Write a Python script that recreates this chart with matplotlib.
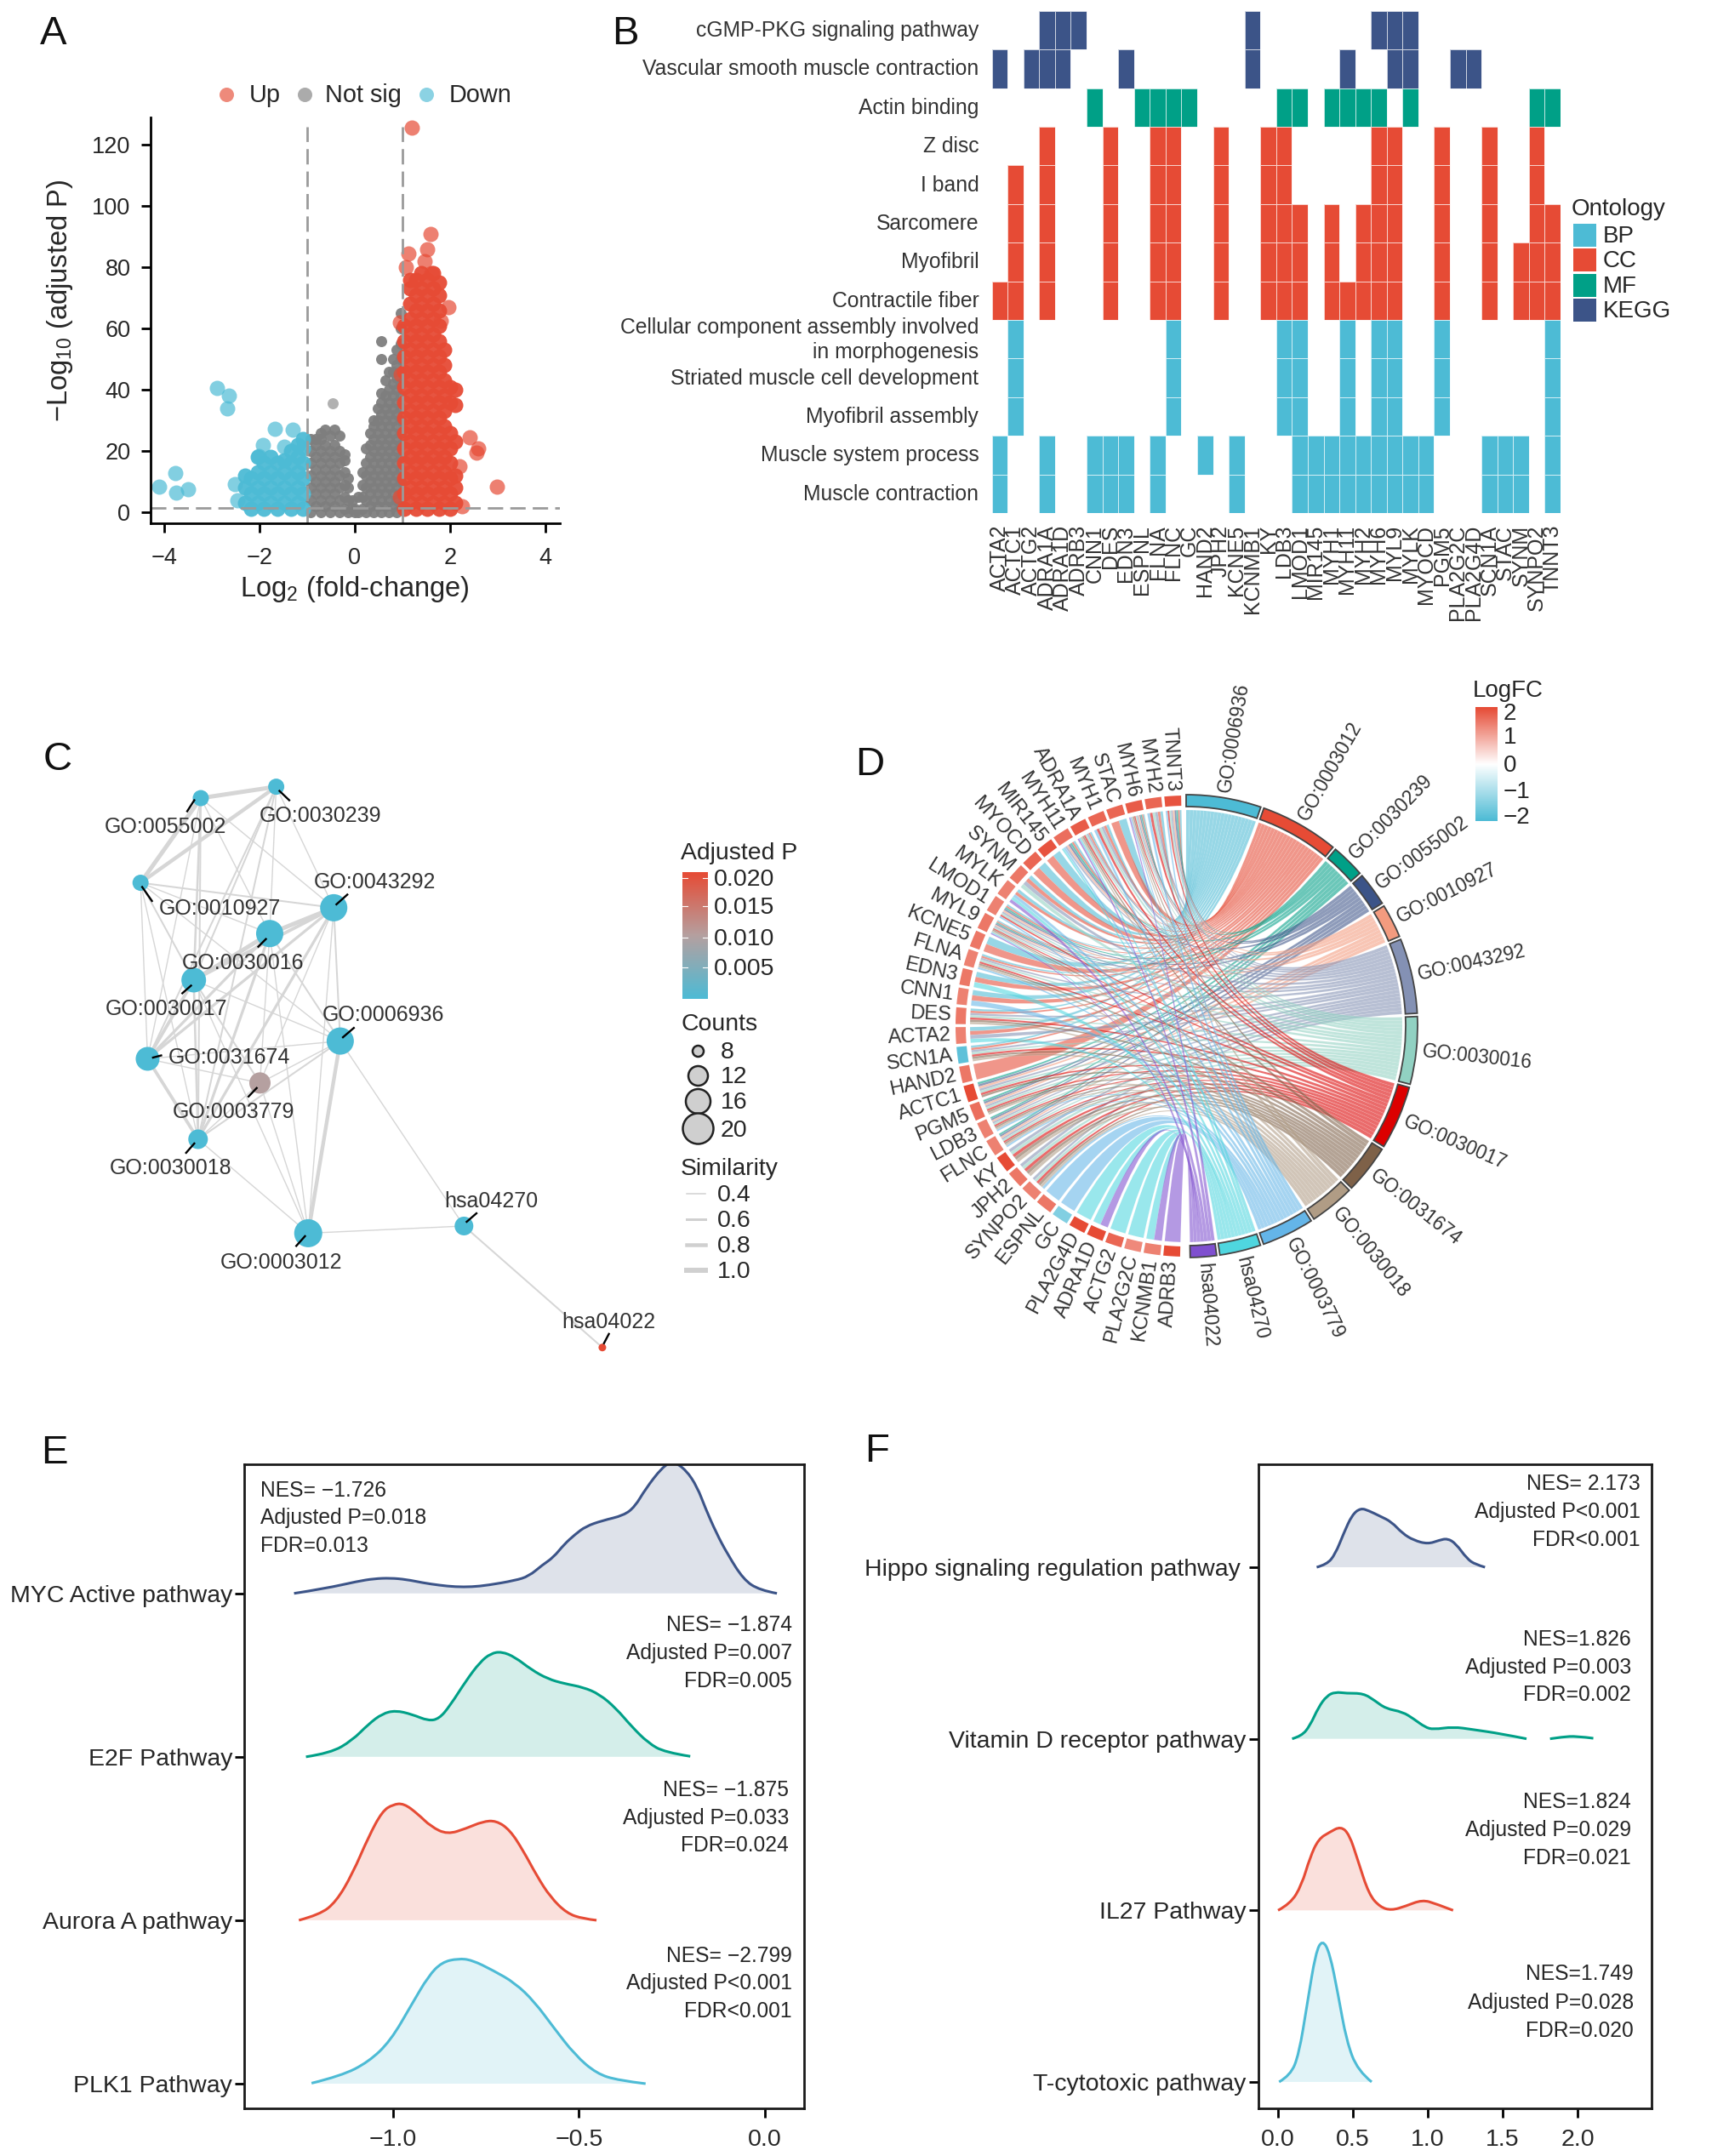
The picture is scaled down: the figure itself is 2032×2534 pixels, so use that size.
import numpy as np
import matplotlib
matplotlib.use('Agg')
import matplotlib.pyplot as plt
from matplotlib.colors import LinearSegmentedColormap, ListedColormap, to_rgba
from matplotlib.patches import Wedge, PathPatch, Rectangle
from matplotlib.path import Path
from matplotlib.transforms import ScaledTranslation

plt.rcParams['font.family'] = ['Liberation Sans', 'DejaVu Sans']
plt.rcParams['mathtext.fontset'] = 'custom'
plt.rcParams['mathtext.rm'] = 'Liberation Sans'
plt.rcParams['mathtext.default'] = 'regular'

W, H = 2032, 2534
BLUE, RED, GREEN, NAVY = '#4DBBD5', '#E64B35', '#00A087', '#3C5488'
INK = '#262626'

# ---------------------------------------------------------------- panel A data
up_col_x = [1.04, 1.16, 1.28, 1.40, 1.52, 1.64, 1.76, 1.88, 2.00, 2.10]
up_col_y = [
    [1, 6, 11, 16, 21, 26, 31, 36, 41, 46, 51, 56, 61],
    [3, 8, 13, 18, 23, 28, 33, 38, 43, 48, 53, 58, 63, 68, 73, 76],
    [1, 6, 11, 16, 21, 26, 31, 36, 41, 46, 51, 56, 61, 66, 71, 76],
    [3, 8, 13, 18, 23, 28, 33, 38, 43, 48, 53, 58, 63, 68, 73, 78],
    [1, 6, 11, 16, 21, 26, 31, 36, 41, 46, 51, 56, 61, 66, 71, 76],
    [3, 8, 13, 18, 23, 28, 33, 38, 43, 48, 53, 58, 63, 68, 73, 78],
    [1, 6, 11, 16, 21, 26, 31, 36, 41, 46, 51, 56, 61, 66, 71, 75],
    [3, 8, 13, 18, 23, 28, 33, 38, 43, 48, 53],
    [1, 6, 11, 16, 21, 26, 36, 41],
    [3, 8, 12, 23, 35, 40],
]
up_out_x = [1.19, 1.58, 1.52, 1.13, 1.07, 1.46, 1.60, 1.97, 1.80, 2.41, 2.58, 2.55, 2.98, 2.20, 2.25, 0.95, 0.96, 0.95]
up_out_y = [125.6, 91, 86, 84.5, 80, 82, 78, 67, 62.5, 24.4, 20.8, 19.5, 8.3, 15, 2, 62, 45, 5]

down_col_x = [-1.08, -1.20, -1.34, -1.48, -1.62, -1.76, -1.90, -2.04, -2.18, -2.30]
down_col_y = [
    [1, 6, 11, 16, 21, 24],
    [3, 8, 13, 18, 22],
    [1, 6, 11, 16, 20],
    [3, 8, 13, 17],
    [1, 6, 11, 16],
    [3, 8, 13, 18],
    [1, 6, 11, 16],
    [3, 8, 13, 18],
    [1, 6, 11],
    [3, 8, 12],
]
down_out_x = [-4.10, -3.76, -3.75, -3.50, -2.88, -2.64, -2.68, -1.68, -1.30, -1.92, -1.48, -2.02, -2.52, -2.46]
down_out_y = [8.4, 12.9, 6.3, 7.6, 40.5, 38.2, 34, 27.3, 27, 22, 21.5, 18.5, 9.3, 4]

ns_col_x = [-0.92, -0.82, -0.72, -0.62, -0.52, -0.42, -0.32, -0.22, -0.14, -0.06, 0.0,
            0.08, 0.16, 0.24, 0.32, 0.40, 0.48, 0.56, 0.64, 0.72, 0.80, 0.88, 0.96]
ns_col_y = [
    [0, 4, 8, 12, 16, 20, 24],
    [2, 6, 10, 14, 18, 22, 24],
    [0, 4, 8, 12, 16, 20, 24, 26],
    [2, 6, 10, 14, 18, 22, 27],
    [0, 4, 8, 12, 16, 20, 25],
    [2, 6, 10, 14, 18, 22, 27],
    [0, 4, 8, 12, 16, 20, 25],
    [1, 5, 9, 13, 17, 19],
    [0, 4, 8, 11],
    [1, 4],
    [0, 1],
    [0, 5],
    [1, 5, 9, 13],
    [0, 4, 8, 12, 16, 21],
    [2, 6, 10, 14, 18, 22, 26],
    [0, 4, 8, 12, 16, 20, 24, 28, 30],
    [2, 6, 10, 14, 18, 22, 26, 30, 34],
    [0, 4, 8, 12, 16, 20, 24, 28, 32, 36, 39, 50, 56],
    [2, 6, 10, 14, 18, 22, 26, 30, 34, 38, 43],
    [0, 4, 8, 12, 16, 20, 24, 28, 32, 36, 40, 46],
    [2, 6, 10, 14, 18, 22, 26, 30, 34, 38, 42, 46, 50],
    [0, 4, 8, 12, 16, 20, 24, 28, 32, 36, 40, 44, 48, 53],
    [2, 6, 10, 14, 18, 22, 26, 30, 34, 38, 42, 46, 50, 55, 60, 65],
]
ns_out_x = [-0.46]
ns_out_y = [35.5]
a_xticks = [-4, -2, 0, 2, 4]
a_yticks = [0, 20, 40, 60, 80, 100, 120]
fc_cut = [-1, 1]
p_cut = [1.3]

# ---------------------------------------------------------------- panel B data
genes = ['ACTA2', 'ACTC1', 'ACTG2', 'ADRA1A', 'ADRA1D', 'ADRB3', 'CNN1', 'DES', 'EDN3', 'ESPNL', 'FLNA', 'FLNC',
         'GC', 'HAND2', 'JPH2', 'KCNE5', 'KCNMB1', 'KY', 'LDB3', 'LMOD1', 'MIR145', 'MYH1', 'MYH11', 'MYH2',
         'MYH6', 'MYL9', 'MYLK', 'MYOCD', 'PGM5', 'PLA2G2C', 'PLA2G4D', 'SCN1A', 'STAC', 'SYNM', 'SYNPO2', 'TNNT3']
terms = ['cGMP-PKG signaling pathway', 'Vascular smooth muscle contraction', 'Actin binding', 'Z disc', 'I band',
         'Sarcomere', 'Myofibril', 'Contractile fiber',
         'Cellular component assembly involved\nin morphogenesis', 'Striated muscle cell development',
         'Myofibril assembly', 'Muscle system process', 'Muscle contraction']
term_ontology = [3, 3, 2, 1, 1, 1, 1, 1, 0, 0, 0, 0, 0]
ontology_names = ['BP', 'CC', 'MF', 'KEGG']
ontology_colors = [BLUE, RED, GREEN, NAVY]
term_members = [
    [3, 4, 5, 16, 24, 25, 26],
    [0, 2, 3, 4, 8, 16, 22, 25, 26, 29, 30],
    [6, 9, 10, 11, 12, 18, 19, 21, 22, 23, 24, 26, 34, 35],
    [3, 7, 10, 11, 14, 17, 18, 24, 25, 28, 31, 34],
    [1, 3, 7, 10, 11, 14, 17, 18, 24, 25, 28, 31, 34],
    [1, 3, 7, 10, 11, 14, 17, 18, 19, 21, 23, 24, 25, 28, 31, 34, 35],
    [1, 3, 7, 10, 11, 14, 17, 18, 19, 21, 23, 24, 25, 28, 31, 33, 34, 35],
    [0, 1, 3, 7, 10, 11, 14, 17, 18, 19, 21, 22, 23, 24, 25, 28, 31, 33, 34, 35],
    [1, 11, 18, 19, 22, 24, 25, 28, 35],
    [1, 11, 18, 19, 22, 24, 25, 28, 35],
    [1, 11, 18, 19, 22, 24, 25, 28, 35],
    [0, 3, 6, 7, 8, 10, 13, 15, 19, 20, 21, 22, 23, 24, 25, 26, 27, 31, 32, 33, 35],
    [0, 3, 6, 7, 8, 10, 15, 19, 20, 21, 22, 23, 24, 25, 26, 27, 31, 32, 33, 35],
]

# ---------------------------------------------------------------- panel C data
node_names = ['GO:0055002', 'GO:0030239', 'GO:0010927', 'GO:0043292', 'GO:0030016', 'GO:0030017', 'GO:0031674',
              'GO:0006936', 'GO:0003779', 'GO:0030018', 'GO:0003012', 'hsa04270', 'hsa04022']
node_x = [370, 509, 259, 615, 497, 357, 272, 627, 479, 365, 568, 855, 1110]
node_y = [177, 150, 377, 436, 497, 607, 793, 751, 850, 983, 1205, 1188, 1475]
node_size = [19, 19, 19, 32, 32, 29, 28, 32, 25, 23, 33, 22, 9]
node_color = [BLUE] * 8 + ['#B5A0A0'] + [BLUE] * 3 + [RED]
label_x = [305, 590, 405, 690, 447, 307, 422, 706, 430, 315, 518, 905, 1122]
label_y = [246, 219, 438, 376, 566, 676, 790, 690, 918, 1051, 1275, 1130, 1416]
lead_x0 = [358, 515, 262, 620, 490, 352, 282, 632, 473, 358, 562, 860, 1113]
lead_y0 = [182, 160, 387, 428, 510, 620, 790, 742, 862, 993, 1212, 1178, 1465]
lead_x1 = [345, 533, 280, 640, 476, 336, 297, 652, 458, 343, 546, 878, 1122]
lead_y1 = [208, 182, 420, 405, 528, 638, 785, 720, 882, 1015, 1235, 1158, 1443]
edge_from = [0, 0, 1, 3, 4, 3, 5, 6, 7, 5, 0, 0, 0, 0, 0, 1, 1, 1, 1, 1, 2, 2, 2, 2, 2, 2, 3, 3, 3, 3, 4, 4, 4, 4,
             5, 5, 6, 6, 7, 7, 8, 8, 4, 3, 7, 10, 11, 9, 5]
edge_to = [1, 2, 2, 4, 5, 5, 6, 9, 10, 9, 3, 4, 5, 6, 9, 3, 4, 5, 6, 9, 3, 4, 5, 6, 9, 7, 6, 7, 9, 8, 6, 7, 9, 8,
           7, 8, 7, 8, 8, 9, 9, 10, 10, 10, 11, 11, 12, 10, 10]
edge_sim = [1.0, 1.0, 0.9, 1.0, 1.0, 0.8, 0.8, 0.8, 0.9, 0.6, 0.4, 0.4, 0.6, 0.4, 0.5, 0.4, 0.4, 0.5, 0.5, 0.5, 0.5,
            0.4, 0.5, 0.4, 0.4, 0.4, 0.7, 0.5, 0.7, 0.4, 0.7, 0.5, 0.7, 0.4, 0.4, 0.5, 0.4, 0.4, 0.4, 0.5, 0.4, 0.4,
            0.4, 0.4, 0.4, 0.4, 0.5, 0.4, 0.4]
count_levels = [8, 12, 16, 20]
sim_levels = [0.4, 0.6, 0.8, 1.0]
padj_labels = ['0.020', '0.015', '0.010', '0.005']

# ---------------------------------------------------------------- panel D data
chord_term_names = ['GO:0006936', 'GO:0003012', 'GO:0030239', 'GO:0055002', 'GO:0010927', 'GO:0043292', 'GO:0030016',
                    'GO:0030017', 'GO:0031674', 'GO:0030018', 'GO:0003779', 'hsa04270', 'hsa04022']
chord_term_row = [12, 11, 10, 9, 8, 7, 6, 5, 4, 3, 2, 1, 0]
chord_term_colors = ['#4DBBD5', '#E64B35', '#00A087', '#3C5488', '#F39B7F', '#8491B4', '#91D1C2', '#DC0000',
                     '#7E6148', '#B09C85', '#64B5E8', '#4FD6DF', '#7F4FCF']
chord_genes = ['ADRB3', 'KCNMB1', 'PLA2G2C', 'ACTG2', 'ADRA1D', 'PLA2G4D', 'GC', 'ESPNL', 'SYNPO2', 'JPH2', 'KY', 'FLNC',
               'LDB3', 'PGM5', 'ACTC1', 'HAND2', 'SCN1A', 'ACTA2', 'DES', 'CNN1', 'EDN3', 'FLNA', 'KCNE5', 'MYL9',
               'LMOD1', 'MYLK', 'SYNM', 'MYOCD', 'MIR145', 'MYH11', 'ADRA1A', 'MYH1', 'STAC', 'MYH6', 'MYH2', 'TNNT3']
chord_logfc = [1.8, 1.2, 1.1, 1.5, 1.8, 1.9, -1.6, 1.3, 1.2, 1.3, 1.9, 1.2, 1.2, 1.4, 1.9, 1.3, -2.0, 1.2, 1.3, 1.2,
               1.3, 1.2, 1.3, 1.3, 1.2, 1.2, 1.3, 1.5, 1.7, 1.4, 1.6, 1.5, 1.5, 1.6, 1.5, 1.7]
fc_ticks = ['2', '1', '0', '\u22121', '\u22122']

# ---------------------------------------------------------------- panel E data
e_names = ['PLK1 Pathway', 'Aurora A pathway', 'E2F Pathway', 'MYC Active pathway']
e_colors = [BLUE, RED, GREEN, NAVY]
plk_x = [-1.219, -1.139, -1.066, -1.007, -.949, -.905, -.869, -.825, -.788, -.73, -.672, -.62, -.569, -.511, -.453, -.394, -.321]
plk_h = [.003, .048, .133, .261, .488, .658, .743, .766, .757, .692, .616, .502, .346, .176, .062, .02, 0]
aur_x = [-1.253, -1.197, -1.153, -1.109, -1.066, -1.029, -1.0, -.971, -.934, -.898, -.854, -.803, -.759, -.723, -.686, -.65, -.613, -.577, -.533, -.489, -.453]
aur_h = [0, .034, .113, .284, .51, .667, .709, .715, .652, .573, .525, .562, .604, .61, .553, .426, .27, .142, .043, .009, 0]
e2f_x = [-1.234, -1.168, -1.11, -1.066, -1.029, -.993, -.949, -.905, -.876, -.847, -.803, -.766, -.737, -.708, -.672, -.628, -.584, -.54, -.489, -.445, -.401, -.358, -.314, -.27, -.201]
e2f_h = [0, .023, .1, .2, .264, .284, .26, .22, .233, .312, .468, .58, .633, .644, .61, .533, .477, .448, .426, .383, .298, .184, .085, .028, .003]
myc_x = [-1.266, -1.182, -1.095, -1.051, -1.007, -.964, -.92, -.876, -.832, -.788, -.745, -.672, -.635, -.599, -.569, -.54, -.511, -.482, -.438, -.38, -.35, -.321, -.277, -.248, -.212, -.182, -.161, -.131, -.102, -.058, -.015, .032]
myc_h = [0, .03, .074, .09, .094, .085, .065, .05, .04, .04, .05, .079, .105, .173, .22, .30, .36, .41, .445, .477, .53, .64, .77, .81, .755, .65, .525, .37, .245, .085, .02, 0]
e_xticks = [-1.0, -0.5, 0.0]
e_notes = [['NES= \u22121.726', 'Adjusted P=0.018', 'FDR=0.013'], ['NES= \u22121.874', 'Adjusted P=0.007', 'FDR=0.005'],
           ['NES= \u22121.875', 'Adjusted P=0.033', 'FDR=0.024'], ['NES= \u22122.799', 'Adjusted P<0.001', 'FDR<0.001']]

# ---------------------------------------------------------------- panel F data
f_names = ['T-cytotoxic pathway', 'IL27 Pathway', 'Vitamin D receptor pathway', 'Hippo signaling regulation pathway']
tc_x = [.007, .082, .139, .195, .251, .296, .345, .401, .457, .532, .625]
tc_h = [0, .038, .159, .456, .753, .83, .753, .51, .24, .065, 0]
il_x = [0, .082, .157, .213, .27, .345, .419, .476, .532, .607, .682, .757, .85, .963, 1.056, 1.169]
il_h = [0, .038, .146, .308, .416, .456, .49, .443, .294, .092, .019, 0, .024, .062, .038, 0]
vd_x = [.094, .157, .213, .27, .326, .382, .457, .569, .644, .719, .831, .906, .981, 1.037, 1.169, 1.3, 1.487, 1.659, np.nan, 1.816, 1.899, 1.993, 2.105]
vd_h = [0, .016, .076, .184, .251, .273, .265, .265, .224, .176, .157, .116, .068, .054, .07, .054, .03, 0, np.nan, 0, .011, .016, .003]
hp_x = [.258, .326, .382, .438, .494, .551, .607, .682, .757, .831, .906, 1.0, 1.075, 1.131, 1.187, 1.262, 1.318, 1.382]
hp_h = [0, .016, .076, .197, .305, .345, .329, .297, .265, .197, .157, .135, .157, .168, .138, .049, .016, 0]
f_xticks = [0.0, 0.5, 1.0, 1.5, 2.0]
f_notes = [['NES= 2.173', 'Adjusted P<0.001', 'FDR<0.001'], ['NES=1.826', 'Adjusted P=0.003', 'FDR=0.002'],
           ['NES=1.824', 'Adjusted P=0.029', 'FDR=0.021'], ['NES=1.749', 'Adjusted P=0.028', 'FDR=0.020']]

# ---------------------------------------------------------------- helpers
fig = plt.figure(figsize=(W / 100, H / 100), dpi=100, facecolor='white')


def add_ax(l, t, r, b, **kw):
    return fig.add_axes([l / W, 1 - b / H, (r - l) / W, (b - t) / H], **kw)


def ftext(x, y, s, **kw):
    kw.setdefault('va', 'center')
    kw.setdefault('color', INK)
    return fig.text(x / W, 1 - (y + 2) / H, s, **kw)


def pts(px):
    return px * 0.72


def shift_px(label, dx, dy):
    label.set_transform(label.get_transform() + ScaledTranslation(dx / 100, dy / 100, fig.dpi_scale_trans))


for letter, lx, ly in [('A', 47, 38), ('B', 719, 38), ('C', 51, 891), ('D', 1005, 897), ('E', 48, 1706), ('F', 1016, 1704)]:
    ftext(lx, ly, letter, fontsize=34, color='#111111', ha='left')

# ---------------------------------------------------------------- A
ax = add_ax(177, 138, 658, 615)
ax.set_xlim(-4.28, 4.30)
ax.set_ylim(-3.6, 129)
for xs, ys, c, d in [(ns_col_x, ns_col_y, '#7E7E7E', 13), (down_col_x, down_col_y, BLUE, 18), (up_col_x, up_col_y, RED, 18)]:
    px = [x for x, col in zip(xs, ys) for _ in col]
    py = [y for col in ys for y in col]
    ax.scatter(px, py, s=pts(d) ** 2, c=c, alpha=0.95, linewidths=0, clip_on=False)
ax.scatter(ns_out_x, ns_out_y, s=pts(13) ** 2, c='#7E7E7E', alpha=0.6, linewidths=0)
ax.scatter(down_out_x, down_out_y, s=pts(18) ** 2, c=BLUE, alpha=0.7, linewidths=0, clip_on=False)
ax.scatter(up_out_x, up_out_y, s=pts(18) ** 2, c=RED, alpha=0.7, linewidths=0, clip_on=False)
ax.plot([fc_cut[0]] * 2, [-3.6, 126], color='#9A9A9A', lw=2.0, dashes=(6.5, 3))
ax.plot([fc_cut[1]] * 2, [-3.6, 126], color='#9A9A9A', lw=2.0, dashes=(6.5, 3))
ax.axhline(p_cut[0], color='#9A9A9A', lw=2.0, dashes=(6.5, 3))
for s in ['top', 'right']:
    ax.spines[s].set_visible(False)
for s in ['left', 'bottom']:
    ax.spines[s].set_linewidth(2.0)
ax.set_xticks(a_xticks)
ax.set_yticks(a_yticks)
ax.set_xticklabels(['\u22124', '\u22122', '0', '2', '4'])
ax.tick_params(labelsize=19.5, width=2.0, length=8, pad=9, labelcolor=INK)
ax.tick_params(axis='x', pad=12)
ftext(417, 691, 'Log$_{2}$ (fold-change)', fontsize=23.5, ha='center')
ftext(71, 351, '\u2212Log$_{10}$ (adjusted P)', fontsize=23.5, ha='center', rotation=90)

ov = add_ax(0, 0, W, H)
ov.set_xlim(0, W)
ov.set_ylim(H, 0)
ov.axis('off')
ov.patch.set_alpha(0)
ov.set_zorder(10)
for x, c in [(266, RED), (358, '#7E7E7E'), (501, BLUE)]:
    ov.scatter([x], [111], s=pts(17) ** 2, c=c, alpha=0.65, linewidths=0)
ftext(293, 110, 'Up', fontsize=20.8)
ftext(382, 110, 'Not sig', fontsize=20.8)
ftext(528, 110, 'Down', fontsize=20.8)

# ---------------------------------------------------------------- B
ax = add_ax(1165.6, 12.7, 1834, 603)
mat = np.full((len(terms), len(genes)), np.nan)
for i, (members, o) in enumerate(zip(term_members, term_ontology)):
    mat[i, members] = o
ax.pcolormesh(np.arange(len(genes) + 1), np.arange(len(terms) + 1), np.ma.masked_invalid(mat),
              cmap=ListedColormap(ontology_colors), vmin=-0.5, vmax=3.5, edgecolors=(1, 1, 1, 0.75), linewidth=0.6)
ax.set_xlim(0, len(genes))
ax.set_ylim(len(terms), 0)
for s in ax.spines.values():
    s.set_visible(False)
ax.set_xticks(np.arange(len(genes)) + 0.5)
ax.set_xticklabels(genes, rotation=90, fontsize=18, color='#333333')
ax.set_yticks(np.arange(len(terms)) + 0.5)
ax.set_yticklabels(terms, fontsize=17.8, color='#333333', linespacing=1.25)
ax.tick_params(length=0, pad=10)
ax.tick_params(axis='y', pad=11)
for k, lbl in enumerate(ax.get_yticklabels()):
    shift_px(lbl, 0, 4 if k == 8 else 2)
ftext(1847, 244, 'Ontology', fontsize=20)
for k, (name, c) in enumerate(zip(ontology_names, ontology_colors)):
    yy = 263 + k * 29.3
    ov.add_patch(Rectangle((1849, yy), 27, 27, facecolor=c, edgecolor='none'))
    ftext(1884, yy + 13, name, fontsize=20)

# ---------------------------------------------------------------- C
ax = add_ax(0, 850, 1000, 1630)
ax.set_xlim(0, 1568)
ax.set_ylim(1568, 0)
ax.axis('off')
for a, b, s in zip(edge_from, edge_to, edge_sim):
    ax.plot([node_x[a], node_x[b]], [node_y[a], node_y[b]], color='#D6D6D6', lw=pts(6.0 * s - 1.0),
            solid_capstyle='round', zorder=1)
ax.scatter(node_x, node_y, s=[pts(d) ** 2 for d in node_size], c=node_color, linewidths=0, zorder=2)
for x0, y0, x1, y1 in zip(lead_x0, lead_y0, lead_x1, lead_y1):
    ax.plot([x0, x1], [y0, y1], color='black', lw=1.7, zorder=3)
for name, x, y in zip(node_names, label_x, label_y):
    ax.text(x, y, name, fontsize=18, color='#333333', ha='center', va='center', zorder=4)

pad_cmap = LinearSegmentedColormap.from_list('pad', [BLUE, '#B5A0A0', RED])
ftext(800, 1001, 'Adjusted P', fontsize=20.4, ha='left')
ov.imshow(np.linspace(1, 0, 200)[:, None], extent=(802, 832, 1174, 1025), cmap=pad_cmap, aspect='auto', zorder=1)
for lab, yy in zip(padj_labels, [1032, 1065, 1102, 1137]):
    ov.plot([802, 808], [yy, yy], color='white', lw=0.8, zorder=2)
    ov.plot([826, 832], [yy, yy], color='white', lw=0.8, zorder=2)
    ftext(839, yy, lab, fontsize=20.5)
ov.set_xlim(0, W)
ov.set_ylim(H, 0)
ftext(800, 1202, 'Counts', fontsize=20.4)
for cnt, d, yy, ty in zip(count_levels, [13, 23, 29, 36], [1235, 1264, 1294, 1326], [1235, 1264, 1294, 1327]):
    ov.scatter([820], [yy], s=pts(d) ** 2, facecolor='#CFCFCF', edgecolor='#222222', linewidths=1.8)
    ftext(847, ty, str(cnt), fontsize=20.5)
ftext(800, 1372, 'Similarity', fontsize=20.4)
for sim, yy in zip(sim_levels, [1403, 1433, 1463, 1493]):
    ov.plot([807, 829], [yy, yy], color='#D0D0D0', lw=pts(7.5 * sim - 1.5))
    ftext(843, yy, f'{sim:.1f}', fontsize=20.5)

# ---------------------------------------------------------------- D
ax = add_ax(1004, 786, 1784, 1626)
ax.set_xlim(-390, 390)
ax.set_ylim(-420, 420)
ax.axis('off')
R_OUT, R_IN, R_RIB = 272, 258, 254


def polar(r, th):
    t = np.deg2rad(th)
    return r * np.sin(t), r * np.cos(t)


fc_cmap = LinearSegmentedColormap.from_list('fc', [BLUE, 'white', RED])
counts = [len(term_members[r]) for r in chord_term_row]
deg_per = (179 - 12 * 0.8) / sum(counts)
term_span = []
cur = 0.0
for c in counts:
    term_span.append((cur, cur + c * deg_per))
    cur += c * deg_per + 0.8
gene_step = 178.0 / len(chord_genes)
gene_span = {g: (181.5 + k * gene_step, 181.5 + k * gene_step + gene_step - 0.75) for k, g in enumerate(chord_genes)}

gene_terms = {g: [] for g in chord_genes}
for ti, r in enumerate(chord_term_row):
    for m in term_members[r]:
        gene_terms[genes[m]].append(ti)

for ti in range(len(counts)):
    r = chord_term_row[ti]
    members = sorted([genes[m] for m in term_members[r]], key=lambda g: -gene_span[g][0])
    t0, t1 = term_span[ti]
    dt = (t1 - t0) / len(members)
    for k, g in enumerate(members):
        a1, a2 = t0 + k * dt, t0 + (k + 1) * dt
        lst = sorted(gene_terms[g], reverse=True)
        g0, g1 = gene_span[g]
        dg = (g1 - g0) / len(lst)
        pos = lst.index(ti)
        b1, b2 = g0 + pos * dg, g0 + (pos + 1) * dg
        arc1 = [polar(R_RIB, a) for a in np.linspace(a1, a2, 5)]
        arc2 = [polar(R_RIB, b) for b in np.linspace(b1, b2, 3)]
        verts = arc1 + [(0, 0), arc2[0]] + arc2[1:] + [(0, 0), arc1[0]]
        codes = [Path.MOVETO] + [Path.LINETO] * 4 + [Path.CURVE3, Path.CURVE3] + [Path.LINETO] * 2 + [Path.CURVE3, Path.CURVE3]
        ax.add_patch(PathPatch(Path(verts, codes), facecolor=to_rgba(chord_term_colors[ti], 0.58),
                               edgecolor=(1, 1, 1, 0.22), lw=0.3))

for ti, ((t0, t1), name) in enumerate(zip(term_span, chord_term_names)):
    ax.add_patch(Wedge((0, 0), R_OUT, 90 - t1, 90 - t0, width=R_OUT - R_IN, facecolor=chord_term_colors[ti],
                       edgecolor='#444444', lw=1.3))
    m = (t0 + t1) / 2
    x, y = polar(279, m)
    ax.text(x, y, name, rotation=90 - m, rotation_mode='anchor', ha='left', va='center', fontsize=16.3, color='#333333')
for g, fc in zip(chord_genes, chord_logfc):
    g0, g1 = gene_span[g]
    ax.add_patch(Wedge((0, 0), R_OUT - 1, 90 - g1, 90 - g0, width=R_OUT - R_IN - 2,
                       facecolor=fc_cmap(min(1.0, (fc + 2.2) / 4.0)), edgecolor='none'))
    m = (g0 + g1) / 2
    x, y = polar(276, m)
    ax.text(x, y, g, rotation=270 - m, rotation_mode='anchor', ha='right', va='center', fontsize=17, color='#333333')

ftext(1731, 810, 'LogFC', fontsize=20)
ov.imshow(np.linspace(1, 0, 200)[:, None], extent=(1734, 1760, 965, 831), cmap=fc_cmap, aspect='auto', zorder=1)
ov.set_xlim(0, W)
ov.set_ylim(H, 0)
for lab, yy in zip(fc_ticks, [837, 865, 898, 929, 959]):
    ftext(1767, yy, lab, fontsize=20)

# ---------------------------------------------------------------- E / F


def smooth_segments(x, h, base):
    """Typed points are the control points of a quadratic Bezier path, so the outline is drawn smooth."""
    segs, cur_seg = [], []
    for xi, hi in zip(x, h):
        if np.isnan(xi):
            segs.append(cur_seg)
            cur_seg = []
        else:
            cur_seg.append((xi, base + hi))
    segs.append(cur_seg)
    return segs


def curve_path(seg, base=None):
    p = np.array(seg)
    verts, codes = [p[0]], [Path.MOVETO]
    for i in range(1, len(p) - 1):
        end = p[i + 1] if i == len(p) - 2 else (p[i] + p[i + 1]) / 2
        verts += [p[i], end]
        codes += [Path.CURVE3, Path.CURVE3]
    if base is not None:
        verts += [(p[-1][0], base), (p[0][0], base), p[0]]
        codes += [Path.LINETO, Path.LINETO, Path.CLOSEPOLY]
    return Path(verts, codes)


def ridges(ax, series, colors, names, xticks, xfmt):
    for base, ((x, h), c) in enumerate(zip(series, colors)):
        for seg in smooth_segments(x, h, base):
            ax.add_patch(PathPatch(curve_path(seg, base), facecolor=to_rgba(c, 0.17), edgecolor='none'))
            ax.add_patch(PathPatch(curve_path(seg), facecolor='none', edgecolor=c, lw=2.2, capstyle='butt'))
    for s in ax.spines.values():
        s.set_linewidth(2.0)
        s.set_color('#1a1a1a')
    ax.set_yticks(range(len(names)))
    ax.set_yticklabels(names)
    ax.set_xticks(xticks)
    ax.set_xticklabels([xfmt(v) for v in xticks])
    ax.tick_params(labelsize=20.5, width=2.0, length=8, labelcolor=INK)
    ax.tick_params(axis='x', pad=9)
    ax.tick_params(axis='y', pad=2)


ax = add_ax(287, 1721, 945, 2478)
ax.set_xlim(-1.40, 0.105)
ax.set_ylim(-0.151, 3.79)
ridges(ax, [(plk_x, plk_h), (aur_x, aur_h), (e2f_x, e2f_h), (myc_x, myc_h)], e_colors, e_names, e_xticks,
       lambda v: f'{v:.1f}'.replace('-', '\u2212'))
e_pos = [(306, [1750, 1782, 1815], 'left'), (931, [1908, 1941, 1974], 'right'),
         (927, [2102, 2135, 2167], 'right'), (931, [2297, 2329, 2362], 'right')]
for note, (x, ys, ha) in zip(e_notes, e_pos):
    for line, y in zip(note, ys):
        ftext(x, y, line, fontsize=17.7, ha=ha)

ax = add_ax(1478.6, 1721, 1941, 2478)
ax.set_xlim(-0.133, 2.494)
ax.set_ylim(-0.154, 3.6)
ridges(ax, [(tc_x, tc_h), (il_x, il_h), (vd_x, vd_h), (hp_x, hp_h)], e_colors, f_names, f_xticks,
       lambda v: f'{v:.1f}')
shift_px(ax.get_yticklabels()[3], -7, 0)
f_pos = [(1928, [1742, 1775, 1808]), (1917, [1925, 1958, 1990]), (1917, [2116, 2149, 2182]), (1920, [2318, 2352, 2385])]
for note, (x, ys) in zip(f_notes, f_pos):
    for line, y in zip(note, ys):
        ftext(x, y, line, fontsize=17.7, ha='right')

fig.savefig('out.png', dpi=100, facecolor='white')
